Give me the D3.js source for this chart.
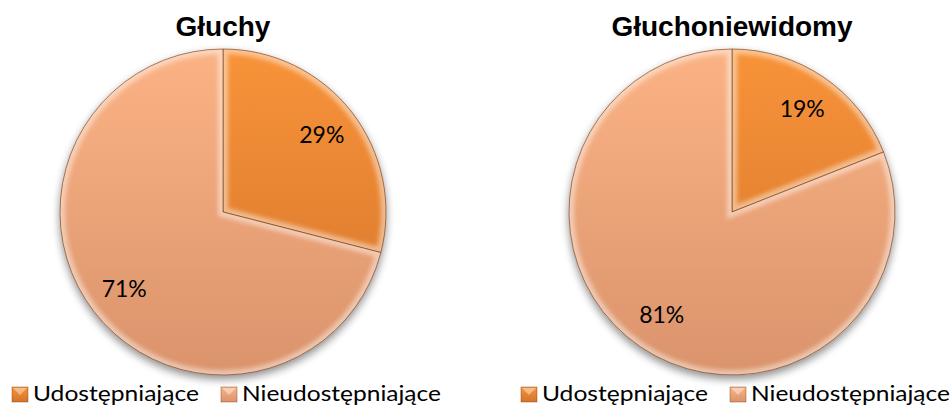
<!DOCTYPE html>
<html><head><meta charset="utf-8">
<script src="https://cdn.jsdelivr.net/npm/d3@7"></script>
<style>html,body{margin:0;padding:0;background:#fff;overflow:hidden}</style>
</head><body>
<svg id="c" width="950" height="405"></svg>
<script>
const titles = ["Głuchy", "Głuchoniewidomy"];
const categories = ["Udostępniające", "Nieudostępniające"];
const valuesGluchy = [29, 71];
const valuesGluchoniewidomy = [19, 81];
const seriesValues = [valuesGluchy, valuesGluchoniewidomy];

const svg = d3.select("#c");
const centersX = [223, 732];
const cy = 212, R = 163, labelR = 125;

const colorTop = ["#F8933A", "#FBB385"];
const colorBot = ["#D4742A", "#DA936B"];
const color = d3.scaleOrdinal().domain(categories).range([0, 1]);

const defs = svg.append("defs");
const shadow = defs.append("filter").attr("id", "shadow").attr("x", "-20%").attr("y", "-20%").attr("width", "140%").attr("height", "150%");
shadow.append("feGaussianBlur").attr("in", "SourceAlpha").attr("stdDeviation", 4).attr("result", "b");
shadow.append("feOffset").attr("in", "b").attr("dx", 0).attr("dy", 4).attr("result", "o");
shadow.append("feComponentTransfer").attr("in", "o").attr("result", "o2")
  .append("feFuncA").attr("type", "linear").attr("slope", 0.45);
const m = shadow.append("feMerge");
m.append("feMergeNode").attr("in", "o2");
m.append("feMergeNode").attr("in", "SourceGraphic");

const blur = defs.append("filter").attr("id", "soft");
blur.append("feGaussianBlur").attr("stdDeviation", 2.2);

categories.forEach((cat, k) => {
  const g = defs.append("linearGradient").attr("id", `grad${k}`)
    .attr("gradientUnits", "userSpaceOnUse")
    .attr("x1", 0).attr("y1", -R).attr("x2", 0).attr("y2", R);
  g.append("stop").attr("offset", "0%").attr("stop-color", colorTop[k]);
  g.append("stop").attr("offset", "100%").attr("stop-color", colorBot[k]);
  const l = defs.append("linearGradient").attr("id", `lg${k}`).attr("x1", 0).attr("y1", 0).attr("x2", 0).attr("y2", 1);
  l.append("stop").attr("offset", "0%").attr("stop-color", colorTop[k]);
  l.append("stop").attr("offset", "100%").attr("stop-color", colorBot[k]);
});

const pie = d3.pie().sort(null).value(d => d.v);
const arc = d3.arc().innerRadius(0).outerRadius(R);
const labelArc = d3.arc().innerRadius(labelR).outerRadius(labelR);

seriesValues.forEach((vals, ci) => {
  const cx = centersX[ci];
  const data = categories.map((c, i) => ({ c, v: vals[i] }));
  const arcs = pie(data);

  svg.append("text").attr("x", cx).attr("y", 36).attr("text-anchor", "middle")
    .attr("font-family", "Liberation Sans, Arial, sans-serif").attr("font-weight", "bold")
    .attr("font-size", 28).attr("fill", "#000").text(titles[ci]);

  const g = svg.append("g").attr("transform", `translate(${cx},${cy})`);
  const pg = g.append("g").attr("filter", "url(#shadow)");
  arcs.forEach((a, i) => {
    const k = color(a.data.c);
    const id = `clip${ci}_${i}`;
    defs.append("clipPath").attr("id", id)
      .append("path").attr("d", arc(a));
    const sg = pg.append("g");
    sg.append("path").attr("d", arc(a)).attr("fill", `url(#grad${k})`);
    // bevel highlight
    sg.append("g").attr("clip-path", `url(#${id})`)
      .append("path").attr("d", arc(a))
      .attr("fill", "none").attr("stroke", "#fff").attr("stroke-opacity", 0.45)
      .attr("stroke-width", 10).attr("filter", "url(#soft)");
    sg.append("path").attr("d", arc(a)).attr("fill", "none")
      .attr("stroke", "#6e3510").attr("stroke-opacity", 0.6).attr("stroke-width", 1);
  });

  arcs.forEach(a => {
    const [lx, ly] = labelArc.centroid(a);
    g.append("text").attr("x", lx).attr("y", ly).attr("dy", "0.35em")
      .attr("text-anchor", "middle").attr("font-family", "Lato, Carlito, sans-serif")
      .attr("font-size", 23).attr("fill", "#000").text(a.data.v + "%");
  });

  // legend
  const lx0 = cx - 211;
  const lg = svg.append("g").attr("transform", `translate(${lx0},387)`);
  const offs = [0, 209];
  const tlen = [166, 199];
  categories.forEach((c, i) => {
    const k = color(c);
    const it = lg.append("g").attr("transform", `translate(${offs[i]},0)`);
    it.append("rect").attr("width", 16).attr("height", 15).attr("fill", `url(#lg${k})`)
      .attr("stroke", "#7a3f14").attr("stroke-opacity", 0.6).attr("stroke-width", 0.7);
    it.append("path").attr("d", "M1,1 L15,1 L8,8 Z").attr("fill", "#fff").attr("opacity", 0.4);
    it.append("text").attr("x", 21).attr("y", 14).attr("font-family", "Lato, Carlito, sans-serif")
      .attr("font-size", 22).attr("fill", "#000")
      .attr("textLength", tlen[i]).attr("lengthAdjust", "spacingAndGlyphs").text(c);
  });
});
</script>
</body></html>
